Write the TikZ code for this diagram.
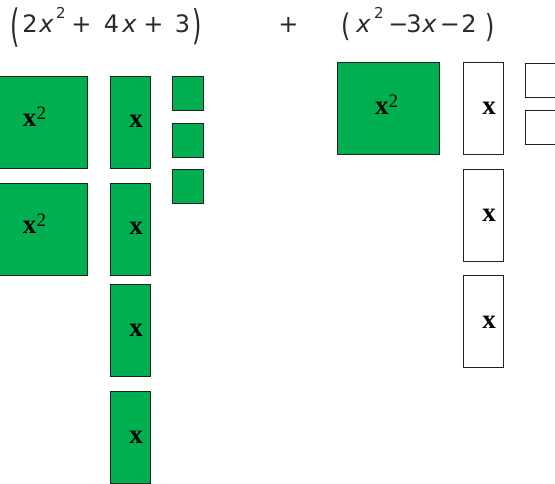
\documentclass[tikz,border=0pt]{standalone}
\usepackage{fontspec}
\setmainfont{Liberation Serif}
\newfontfamily\expfont{DejaVu Sans}
\definecolor{tilegreen}{HTML}{00B050}
\definecolor{tileedge}{HTML}{222222}
\definecolor{exprgray}{HTML}{2A2A2A}
\begin{document}
\begin{tikzpicture}[x=1pt,y=-1pt,
  tile/.style={draw=tileedge, line width=1.3pt, inner sep=0pt, anchor=north west},
  bigtile/.style={tile, minimum width=102pt, minimum height=92pt},
  longtile/.style={tile, minimum width=40pt, minimum height=92pt},
  unittile/.style={tile, minimum width=31pt, minimum height=34pt},
  postile/.style={fill=tilegreen},
  negtile/.style={fill=white},
  lbl/.style={font=\fontsize{27}{27}\selectfont\bfseries, inner sep=0pt, anchor=base},
  tok/.style={font=\expfont\fontsize{24}{28}\selectfont, text=exprgray, inner sep=0pt, anchor=base},
  suptok/.style={font=\expfont\fontsize{15}{17}\selectfont, text=exprgray, inner sep=0pt, anchor=base},
  paren/.style={font=\expfont\fontsize{24}{28}\selectfont\color{exprgray}, inner sep=0pt, anchor=center}
]
\useasboundingbox (0,0) rectangle (555,484);
\clip (0,0) rectangle (555,484);
\fill[white] (0,0) rectangle (555,484);

% left expression (2x^2 + 4x + 3)
\node[paren] (lp1) at (14.7,28) {\scalebox{1}[1.85]{(}};
\node[tok] (l1) at (30,33) {2};
\node[tok] (l2) at (46.5,33) {\itshape x};
\node[suptok] (l3) at (61,18.5) {2};
\node[tok] (l4) at (81.5,33) {+};
\node[tok] (l5) at (111.5,33) {4};
\node[tok] (l6) at (129.5,33) {\itshape x};
\node[tok] (l7) at (153.5,33) {+};
\node[tok] (l8) at (182.5,33) {3};
\node[paren] (rp1) at (197.5,26.5) {\scalebox{1}[1.7]{)}};

% plus between
\node[tok] (mid) at (288.5,33) {+};

% right expression (x^2 - 3x - 2)
\node[paren] (lp2) at (346.5,27) {\scalebox{1}[1.3]{(}};
\node[tok] (r1) at (363.5,33) {\itshape x};
\node[suptok] (r2) at (379,18.5) {2};
\node[tok] (r3) at (398.5,33) {−};
\node[tok] (r4) at (414,33) {3};
\node[tok] (r5) at (429.5,33) {\itshape x};
\node[tok] (r6) at (450,33) {−};
\node[tok] (r7) at (469,33) {2};
\node[paren] (rp2) at (490,27.5) {\scalebox{1}[1.32]{)}};

% left tiles: 2x^2 + 4x + 3
\node[bigtile,postile] (a1) at (-15,76) {};
\node[bigtile,postile] (a2) at (-15,183) {};
\node[lbl] (la1) at (34.5,127) {x\raisebox{7pt}{\fontsize{19}{19}\selectfont\mdseries 2}};
\node[lbl] (la2) at (34.5,234) {x\raisebox{7pt}{\fontsize{19}{19}\selectfont\mdseries 2}};

\node[longtile,postile] (b1) at (110,76) {};
\node[longtile,postile] (b2) at (110,183) {};
\node[longtile,postile] (b3) at (110,284) {};
\node[longtile,postile] (b4) at (110,391) {};
\node[lbl] (lb1) at (136,128) {x};
\node[lbl] (lb2) at (136,235) {x};
\node[lbl] (lb3) at (136,336) {x};
\node[lbl] (lb4) at (136,443) {x};

\node[unittile,postile] (c1) at (172,76) {};
\node[unittile,postile] (c2) at (172,123) {};
\node[unittile,postile] (c3) at (172,169) {};

% right tiles: x^2 - 3x - 2
\node[bigtile,postile] (d1) at (337,62) {};
\node[lbl] (ld1) at (386.5,115) {x\raisebox{7pt}{\fontsize{19}{19}\selectfont\mdseries 2}};

\node[longtile,negtile] (f1) at (463,62) {};
\node[longtile,negtile] (f2) at (463,169) {};
\node[longtile,negtile] (f3) at (463,275) {};
\node[lbl] (lf1) at (489,115) {x};
\node[lbl] (lf2) at (489,222) {x};
\node[lbl] (lf3) at (489,328) {x};

\node[unittile,negtile] (g1) at (525,63) {};
\node[unittile,negtile] (g2) at (525,110) {};
\end{tikzpicture}
\end{document}
